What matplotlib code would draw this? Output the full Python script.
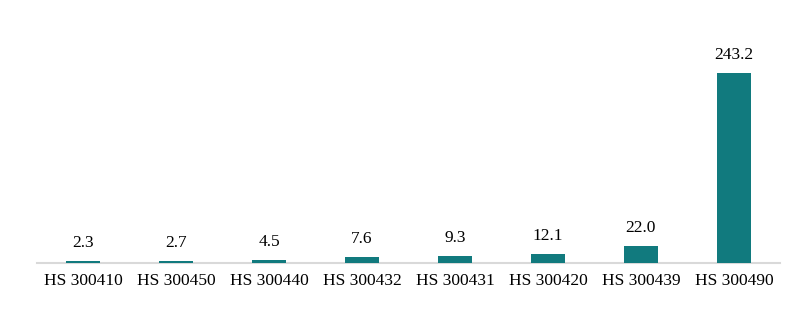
import numpy as np
import matplotlib.pyplot as plt

# data
codes = ["HS 300410", "HS 300450", "HS 300440", "HS 300432",
         "HS 300431", "HS 300420", "HS 300439", "HS 300490"]
values = [2.3, 2.7, 4.5, 7.6, 9.3, 12.1, 22.0, 243.2]

plt.rcParams['font.family'] = ['Liberation Serif', 'DejaVu Serif']

fig = plt.figure(figsize=(8.12, 3.14), dpi=100)
ax = fig.add_axes([0.045, 0.162, 0.916, 0.672])

x = np.arange(len(codes))
bars = ax.bar(x, values, width=0.36, color="#117a7e", zorder=3)

for b, v in zip(bars, values):
    ax.annotate(f"{v:.1f}", (b.get_x() + b.get_width() / 2, v),
                xytext=(0, 10), textcoords="offset points",
                ha="center", va="baseline", fontsize=12.5, color="black")

ax.set_xlim(-0.5, len(codes) - 0.5)
ax.set_ylim(0, 270)
ax.set_xticks(x)
ax.set_xticklabels(codes, fontsize=12.5)
ax.tick_params(axis="x", length=0, pad=7)
ax.set_yticks([])
for s in ["top", "right", "left"]:
    ax.spines[s].set_visible(False)
ax.spines["bottom"].set_color("#d9d9d9")
ax.spines["bottom"].set_linewidth(1.5)

plt.savefig("out.png", dpi=100)
plt.close()
